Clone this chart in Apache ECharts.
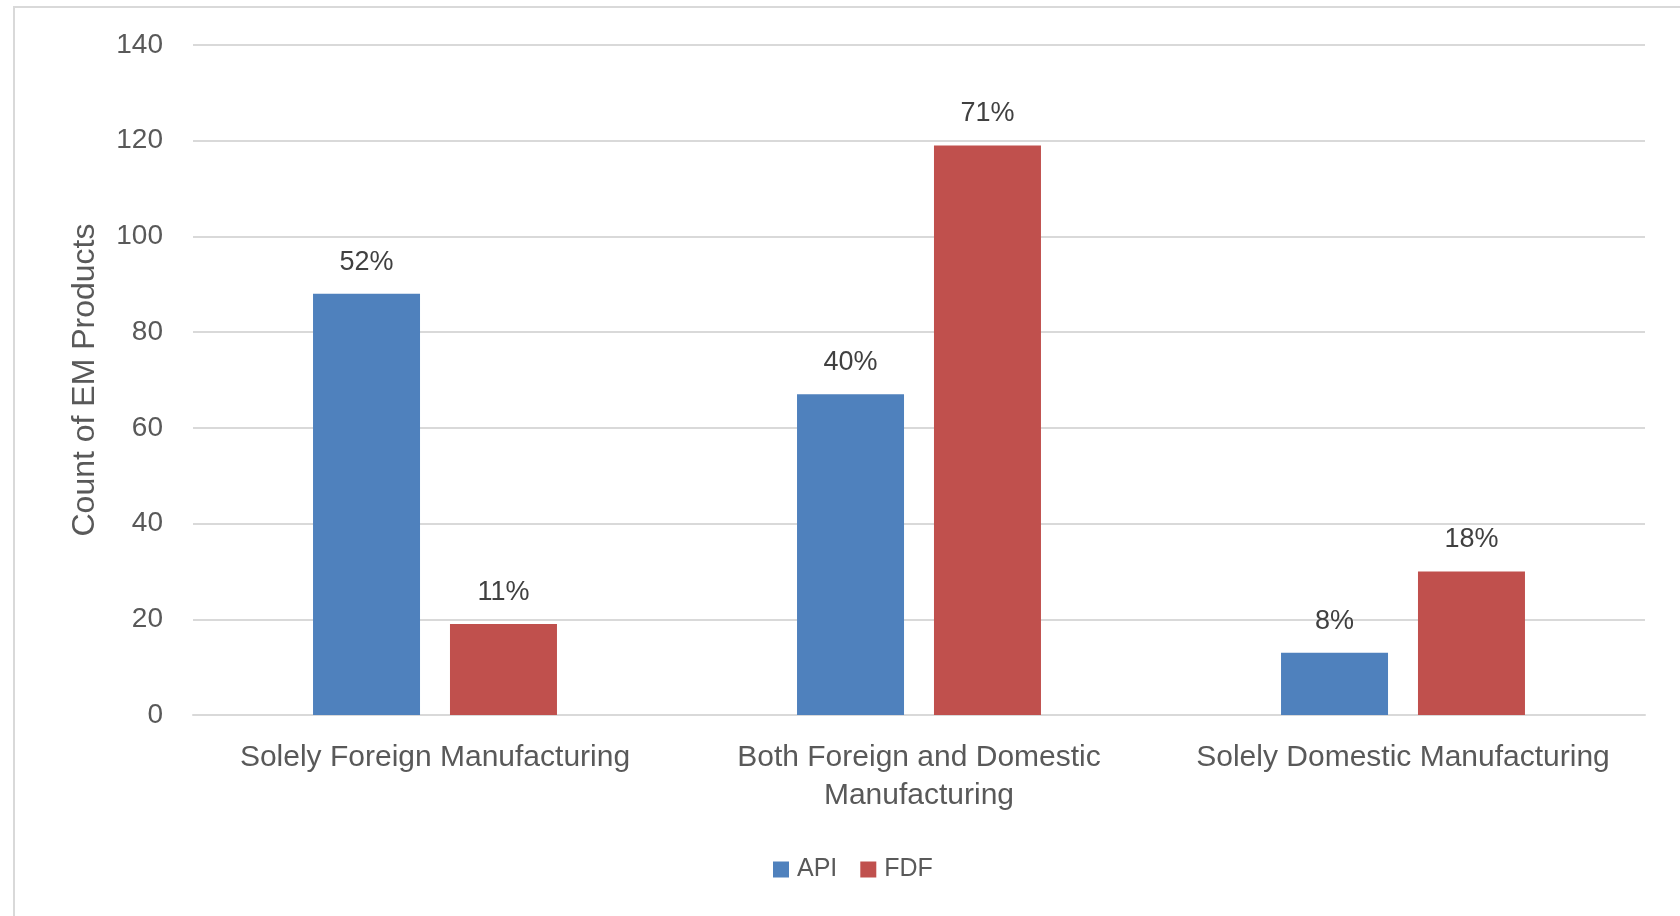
<!DOCTYPE html>
<html>
<head>
<meta charset="utf-8">
<script src="https://cdn.jsdelivr.net/npm/echarts@6/dist/echarts.min.js"></script>
<style>
  html, body { margin: 0; padding: 0; background: #fff; }
  #main { width: 1680px; height: 916px; }
</style>
</head>
<body>
<div id="main"></div>
<script>
var categories = ['Solely Foreign Manufacturing', 'Both Foreign and Domestic\nManufacturing', 'Solely Domestic Manufacturing'];
var apiCounts = [88, 67, 13];
var fdfCounts = [19, 119, 30];
var apiShares = ['52%', '40%', '8%'];
var fdfShares = ['11%', '71%', '18%'];
var yTicks = [0, 20, 40, 60, 80, 100, 120, 140];

var textColor = '#595959';
var fontFam = '"Liberation Sans", Arial, sans-serif';

var myChart = echarts.init(document.getElementById('main'));
myChart.setOption({
    animation: false,
    textStyle: { fontFamily: fontFam },
    graphic: [{
        type: 'rect',
        shape: { x: 14, y: 7, width: 1700, height: 950 },
        style: { fill: 'none', stroke: '#d9d9d9', lineWidth: 2 },
        silent: true
    }],
    grid: { left: 193, right: 35, top: 45, bottom: 201 },
    legend: {
        data: ['API', 'FDF'],
        left: 768,
        top: 852,
        itemWidth: 16,
        itemHeight: 16,
        itemGap: 23,
        icon: 'rect',
        textStyle: { color: textColor, fontSize: 25, fontFamily: fontFam, padding: [0, 0, 0, 3] }
    },
    xAxis: {
        type: 'category',
        data: categories,
        axisLine: { lineStyle: { color: '#d9d9d9', width: 2 } },
        axisTick: { show: false },
        axisLabel: { color: textColor, fontSize: 30, margin: 24, lineHeight: 38, interval: 0 }
    },
    yAxis: {
        type: 'value',
        min: yTicks[0],
        max: yTicks[yTicks.length - 1],
        interval: 20,
        name: 'Count of EM Products',
        nameLocation: 'middle',
        nameGap: 92,
        nameTextStyle: { color: textColor, fontSize: 32 },
        axisLine: { show: false },
        axisTick: { show: false },
        axisLabel: { color: textColor, fontSize: 28, margin: 30 },
        splitLine: { lineStyle: { color: '#d9d9d9', width: 2 } }
    },
    series: [{
        name: 'API',
        type: 'bar',
        data: apiCounts,
        barWidth: 107,
        barGap: '28%',
        itemStyle: { color: '#4f81bd' },
        label: {
            show: true, position: 'top', distance: 18,
            color: '#404040', fontSize: 27,
            formatter: function (p) { return apiShares[p.dataIndex]; }
        }
    }, {
        name: 'FDF',
        type: 'bar',
        data: fdfCounts,
        barWidth: 107,
        itemStyle: { color: '#c0504d' },
        label: {
            show: true, position: 'top', distance: 18,
            color: '#404040', fontSize: 27,
            formatter: function (p) { return fdfShares[p.dataIndex]; }
        }
    }]
});
</script>
</body>
</html>
